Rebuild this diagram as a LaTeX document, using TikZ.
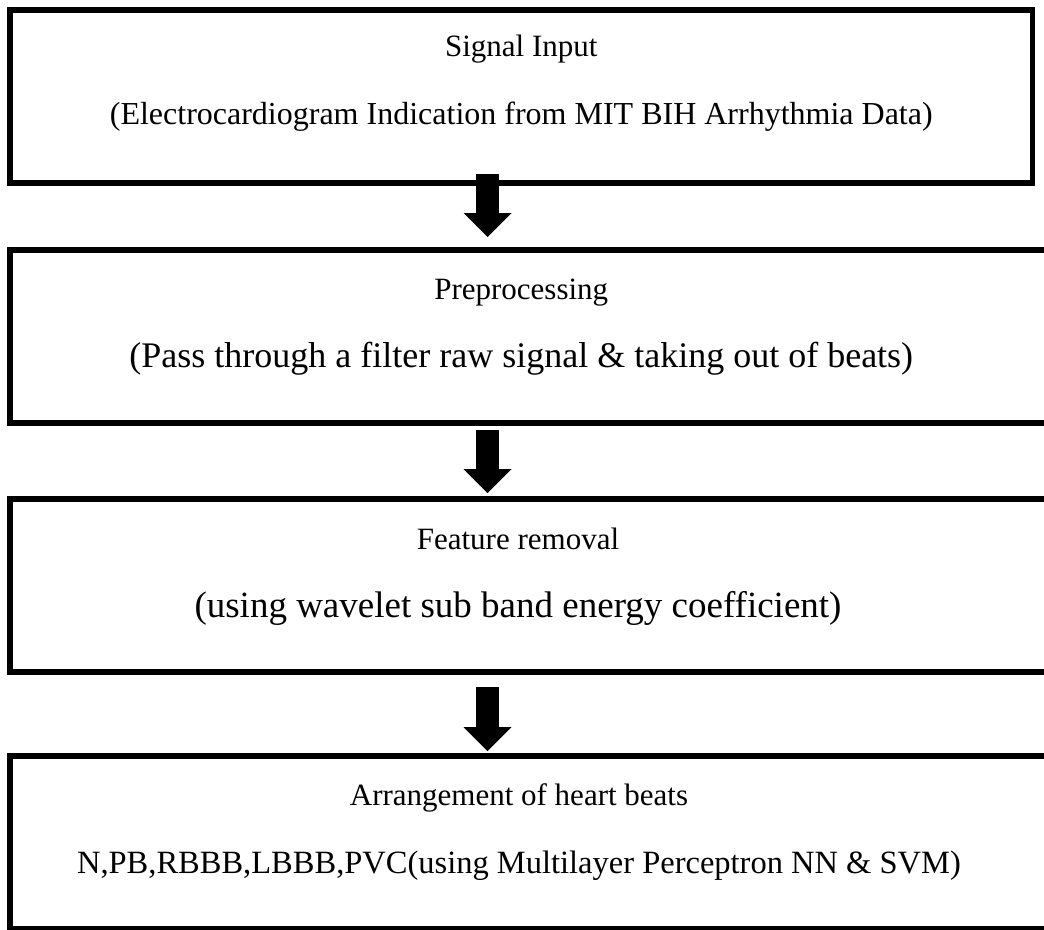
\documentclass[tikz,border=0pt]{standalone}
\usepackage{fontspec}
\setmainfont{Liberation Serif}
\usetikzlibrary{positioning,arrows.meta}

\newcommand{\detailsize}{\fontsize{32}{68}\selectfont}
\newcommand{\detaillarge}{\fontsize{36}{68}\selectfont}

\tikzset{
  stage/.style={draw, line width=5.5pt, minimum width=1022.5pt, minimum height=173pt,
    inner sep=0pt, outer sep=0pt, anchor=north west},
  wide/.style={minimum width=1050pt},
  caption/.style={anchor=north, align=center, inner sep=0pt, font=\fontsize{31}{68}\selectfont},
  flow/.style={line width=23pt, -{Triangle[width=48pt,length=24pt,line width=0pt]}}
}

\begin{document}
\begin{tikzpicture}[x=1pt, y=-1pt]
        \useasboundingbox (0,0) rectangle (1044,929);
        \clip (0,0) rectangle (1044,929);
        \coordinate (spine) at (487.5,0);
        \node[stage] (s1) at (10,10) {};
        \node[stage, wide, below=67pt of s1.south west, anchor=north west] (s2) {};
        \node[stage, wide, below=76pt of s2.south west, anchor=north west] (s3) {};
        \node[stage, wide, below=84pt of s3.south west, anchor=north west] (s4) {};
        \node[caption] (c1) at (521.25,35) {Signal Input\\\detailsize(Electrocardiogram Indication from MIT BIH Arrhythmia Data)};
        \node[caption] (c2) at (521.25,279) {Preprocessing\\\detaillarge(Pass through a filter raw signal \& taking out of beats)};
        \node[caption] (c3) at (518,528) {Feature removal\\\fontsize{37}{68}\selectfont(using wavelet sub band energy coefficient)};
        \node[caption] (c4) at (519,783) {Arrangement of heart beats\\\fontsize{32.5}{68}\selectfont N,PB,RBBB,LBBB,PVC(using Multilayer Perceptron NN \& SVM)};
        \draw[flow, shorten <=-9pt, shorten >=13pt] (s1.south -| spine) -- (s2.north -| spine);
        \draw[flow, shorten <=7pt, shorten >=6pt] (s2.south -| spine) -- (s3.north -| spine);
        \draw[flow, shorten <=15pt, shorten >=5pt] (s3.south -| spine) -- (s4.north -| spine);
\end{tikzpicture}
\end{document}
